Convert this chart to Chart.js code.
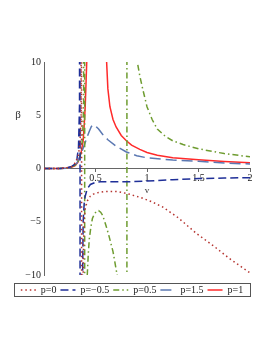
<!DOCTYPE html>
<html>
<head>
<meta charset="utf-8">
<script src="https://cdn.jsdelivr.net/npm/chart.js@4.4.0/dist/chart.umd.min.js"></script>
<style>
  html, body { margin: 0; padding: 0; background: #fff; }
  canvas { display: block; }
</style>
</head>
<body>
<canvas id="plot" width="273" height="353"></canvas>
<script>
const xTicks = [0, 0.5, 1, 1.5, 2];
const yTicks = [-10, -5, 0, 5, 10];
const seriesNames = ['p=0', 'p=\u22120.5', 'p=0.5', 'p=1.5', 'p=1'];

// v and beta; +-1000 stands for a pole (off the plot)
const vP0 = [0, 0.15, 0.22, 0.27, 0.31, 0.335, 0.35, 0.36, 0.365, 0.365, 0.375, 0.38, 0.385, 0.39, 0.40, 0.42, 0.45, 0.48, 0.53, 0.58, 0.65, 0.72, 0.81, 0.94, 1.04, 1.15, 1.3, 1.48, 1.65, 1.8, 2.0];
const bP0 = [0, 0, 0.05, 0.2, 0.6, 1.3, 2.5, 5, 1000, -1000, -1000, -10, -6.5, -4.8, -3.8, -3.05, -2.6, -2.4, -2.25, -2.17, -2.15, -2.17, -2.36, -2.73, -3.1, -3.6, -4.6, -6.1, -7.3, -8.45, -9.8];

const vPm = [0, 0.15, 0.22, 0.27, 0.3, 0.32, 0.335, 0.345, 0.35, 0.35, 0.37, 0.375, 0.38, 0.39, 0.40, 0.42, 0.45, 0.5, 0.55, 0.6, 0.83, 1.0, 1.25, 1.5, 1.75, 2.0];
const bPm = [0, 0, 0.05, 0.2, 0.4, 0.9, 2, 6, 1000, -1000, -1000, -10, -5, -3.3, -2.6, -1.9, -1.5, -1.3, -1.24, -1.25, -1.25, -1.18, -1.05, -0.95, -0.9, -0.86];

const vPh = [0, 0.15, 0.22, 0.27, 0.31, 0.34, 0.36, 0.375, 0.385, 0.395, 0.395, 0.41, 0.42, 0.43, 0.44, 0.455, 0.47, 0.49, 0.51, 0.53, 0.55, 0.57, 0.6, 0.63, 0.67, 0.71, 0.75, 0.805, 0.805, 0.88, 0.906, 0.93, 0.96, 1.0, 1.05, 1.1, 1.18, 1.25, 1.35, 1.5, 1.75, 2.0];
const bPh = [0, 0, 0.04, 0.15, 0.35, 0.8, 1.5, 3, 6, 1000, -1000, -1000, -10, -8, -6.6, -5.5, -4.7, -4.25, -4.02, -3.96, -4.1, -4.4, -5.3, -6.3, -7.8, -10, -1000, -1000, 1000, 1000, 10, 8.7, 7.4, 5.8, 4.6, 3.7, 3.0, 2.6, 2.25, 1.85, 1.4, 1.1];

const vPt = [0, 0.15, 0.22, 0.28, 0.32, 0.35, 0.38, 0.42, 0.44, 0.46, 0.48, 0.5, 0.53, 0.57, 0.62, 0.7, 0.8, 0.9, 1.0, 1.25, 1.5, 1.75, 2.0];
const bPt = [0, 0, 0.03, 0.15, 0.5, 1.2, 1.9, 3.0, 3.5, 3.95, 4.1, 4.0, 3.7, 3.2, 2.7, 2.1, 1.55, 1.2, 1.0, 0.8, 0.67, 0.52, 0.42];

const vP1 = [0, 0.15, 0.22, 0.27, 0.3, 0.33, 0.345, 0.36, 0.38, 0.39, 0.40, 0.415, 0.43, 0.59, 0.608, 0.62, 0.64, 0.67, 0.7, 0.75, 0.8, 0.85, 0.93, 1.0, 1.1, 1.25, 1.5, 1.75, 2.0];
const bP1 = [0, 0, 0.05, 0.15, 0.25, 0.6, 1.0, 1.5, 2.6, 4, 5.8, 10, 1000, 1000, 10, 7.5, 5.8, 4.6, 3.9, 3.1, 2.6, 2.2, 1.8, 1.5, 1.25, 1.02, 0.83, 0.66, 0.54];

const toPts = (vs, bs) => vs.map((v, i) => ({x: v, y: bs[i]}));
const serif = '"Liberation Serif", "DejaVu Serif", serif';

function curve(label, vs, bs, color, dash) {
    return {
        label: label,
        data: toPts(vs, bs),
        borderColor: color,
        backgroundColor: color,
        borderWidth: 1.5,
        borderDash: dash,
        pointRadius: 0,
        pointStyle: 'line',
        tension: 0,
        clip: 0
    };
}

// legend samples take the dash of their line
function legendLabels(chart) {
    const items = Chart.defaults.plugins.legend.labels.generateLabels(chart);
    items.forEach(it => {
        const ds = chart.data.datasets[it.datasetIndex];
        it.lineDash = ds.borderDash;
        it.lineWidth = 1.5;
        it.strokeStyle = ds.borderColor;
    });
    return items;
}

// beta label and the box round the legend
const extras = {
    id: 'extras',
    afterDraw(chart) {
        const ctx = chart.ctx;
        const ys = chart.scales.y;
        ctx.save();
        ctx.font = '11px ' + serif;
        ctx.fillStyle = '#333';
        ctx.textAlign = 'center';
        ctx.textBaseline = 'middle';
        ctx.fillText('\u03b2', 18, ys.getPixelForValue(5));
        const hb = chart.legend.legendHitBoxes;
        if (hb && hb.length) {
            const l = Math.min(...hb.map(b => b.left)) - 7;
            const r = Math.max(...hb.map(b => b.left + b.width)) + 7;
            const t = Math.min(...hb.map(b => b.top)) - 2;
            const bt = Math.max(...hb.map(b => b.top + b.height)) + 1;
            ctx.strokeStyle = '#555';
            ctx.lineWidth = 1;
            ctx.strokeRect(Math.round(l) + 0.5, Math.round(t) + 0.5, Math.round(r - l), Math.round(bt - t));
        }
        ctx.restore();
    }
};

new Chart(document.getElementById('plot'), {
    type: 'line',
    data: {
        datasets: [
            curve(seriesNames[0], vP0, bP0, '#b5332f', [1.5, 3]),
            curve(seriesNames[1], vPm, bPm, '#1f2f98', [8, 4]),
            curve(seriesNames[2], vPh, bPh, '#6e9c30', [6, 3, 1.5, 3]),
            curve(seriesNames[3], vPt, bPt, '#5b78b2', [11, 5]),
            curve(seriesNames[4], vP1, bP1, '#ff2a2a', [])
        ]
    },
    options: {
        responsive: false,
        animation: false,
        layout: { padding: { left: 14, right: 23, top: 62, bottom: 48 } },
        plugins: {
            tooltip: { enabled: false },
            legend: {
                position: 'bottom',
                title: { display: true, text: '', padding: { top: 4.8, bottom: 0 }, font: { size: 1 } },
                labels: {
                    usePointStyle: true,
                    pointStyleWidth: 15,
                    padding: 4,
                    color: '#222',
                    font: { family: serif, size: 10 },
                    generateLabels: legendLabels
                }
            }
        },
        scales: {
            x: {
                type: 'linear',
                min: 0,
                max: 2,
                position: { y: 0 },
                afterBuildTicks: s => { s.ticks = xTicks.map(v => ({value: v})); },
                ticks: {
                    color: '#222',
                    padding: 1,
                    maxRotation: 0,
                    font: { family: serif, size: 10 },
                    callback: v => v === 0 ? '' : String(v)
                },
                grid: { drawOnChartArea: false, tickLength: 3, color: '#666' },
                border: { color: '#666', width: 1 },
                title: { display: true, text: 'v', color: '#333', padding: 0, font: { family: serif, size: 9 } }
            },
            y: {
                type: 'linear',
                min: -10,
                max: 10,
                position: 'left',
                afterFit: s => { s.width = 30; },
                afterBuildTicks: s => { s.ticks = yTicks.map(v => ({value: v})); },
                ticks: {
                    color: '#222',
                    padding: 3,
                    font: { family: serif, size: 10 },
                    callback: v => String(v).replace('-', '\u2212')
                },
                grid: { drawOnChartArea: false, drawTicks: false, color: '#666' },
                border: { color: '#666', width: 1 }
            }
        }
    },
    plugins: [extras]
});
</script>
</body>
</html>
